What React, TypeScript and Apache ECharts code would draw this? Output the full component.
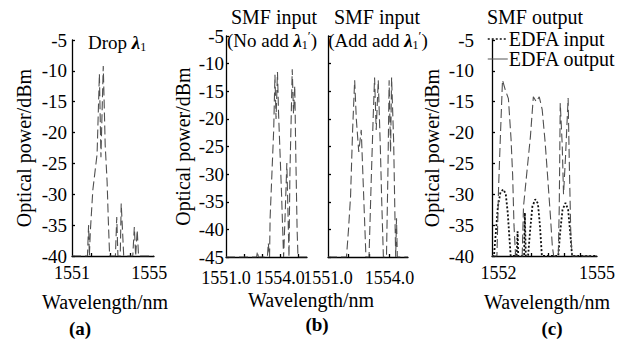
import React, { useEffect, useRef } from "react";
import * as echarts from "echarts";

const FONT = "Liberation Serif, Times New Roman, serif";

// (a) Drop λ1 spectrum  [wavelength nm, power dBm]
const dropSpectrum: number[][] = [
  [1551.0, -40], [1551.8, -40], [1551.86, -35], [1551.9, -40], [1551.95, -36], [1552.08, -29.3],
  [1552.3, -23.5], [1552.42, -10.5], [1552.5, -24], [1552.62, -9.2], [1552.72, -22],
  [1552.82, -28], [1552.88, -34], [1552.95, -40], [1553.25, -40], [1553.32, -33.7],
  [1553.38, -40], [1553.5, -40], [1553.55, -31.5], [1553.62, -36], [1553.68, -40],
  [1554.15, -40], [1554.23, -35.3], [1554.3, -40], [1554.38, -35.8], [1554.45, -40], [1555.25, -40],
];

// (b) SMF input, no add λ'1
const smfNoAdd: number[][] = [
  [1551.0, -45], [1552.7, -45], [1552.75, -44], [1552.8, -45], [1553.3, -45], [1553.35, -42.5],
  [1553.42, -45], [1553.45, -38], [1553.55, -30], [1553.65, -22], [1553.72, -12],
  [1553.78, -20], [1553.86, -11.5], [1553.92, -19], [1554.0, -26], [1554.08, -33],
  [1554.15, -40], [1554.2, -45], [1554.3, -36], [1554.38, -28], [1554.45, -38],
  [1554.5, -45], [1554.55, -30], [1554.62, -20], [1554.68, -11], [1554.75, -19],
  [1554.82, -14], [1554.88, -27], [1554.95, -40], [1555.0, -45], [1555.5, -45],
];

// (b) SMF input, add λ'1
const smfAdd: number[][] = [
  [1551.0, -45], [1551.9, -45], [1552.0, -40], [1552.1, -34], [1552.2, -22], [1552.3, -13],
  [1552.38, -20], [1552.5, -26], [1552.62, -22], [1552.7, -30], [1552.78, -38],
  [1552.85, -45], [1553.0, -45], [1553.1, -32], [1553.2, -20], [1553.27, -12.5],
  [1553.35, -22], [1553.45, -13], [1553.55, -25], [1553.62, -35], [1553.7, -45],
  [1553.85, -45], [1553.92, -30], [1553.98, -13], [1554.05, -26], [1554.1, -12.5],
  [1554.2, -24], [1554.26, -37], [1554.3, -45], [1554.34, -38], [1554.38, -45], [1554.9, -45],
];

// (c) SMF output
const edfaInput: number[][] = [
  [1551.8, -40], [1551.86, -40], [1551.92, -36], [1551.98, -32], [1552.06, -29.6],
  [1552.15, -29.2], [1552.22, -30], [1552.28, -33], [1552.33, -37], [1552.37, -40],
  [1552.55, -40], [1552.58, -36], [1552.6, -40], [1552.78, -40], [1552.8, -33],
  [1552.83, -40], [1552.9, -40], [1552.96, -36], [1553.03, -32], [1553.12, -30.8],
  [1553.2, -31.5], [1553.26, -35], [1553.32, -40], [1553.82, -40], [1553.88, -36],
  [1553.95, -32.5], [1554.04, -31.4], [1554.12, -32.5], [1554.18, -36], [1554.24, -40], [1555.0, -40],
];
const edfaOutput: number[][] = [
  [1551.8, -40], [1551.95, -40], [1552.0, -29], [1552.06, -20], [1552.12, -11.5],
  [1552.2, -13], [1552.3, -14.5], [1552.38, -21], [1552.43, -27], [1552.47, -35],
  [1552.52, -40], [1552.72, -40], [1552.76, -32], [1552.88, -25.5], [1552.97, -20.7],
  [1553.06, -14.2], [1553.15, -15], [1553.24, -14.2], [1553.33, -16.3], [1553.42, -21.6],
  [1553.48, -26], [1553.58, -33.5], [1553.64, -38.5], [1553.68, -40], [1553.82, -40],
  [1553.85, -32], [1553.88, -15.2], [1553.94, -22], [1553.98, -30], [1554.04, -24],
  [1554.12, -14.4], [1554.16, -26], [1554.2, -36], [1554.24, -40], [1555.0, -40],
];

const xLabelsA = [1551, 1555];
const xLabelsB = [1551, 1554];
const xLabelsC = [1552, 1555];
const xTicksA = [1552, 1553, 1554];
const xTicksB = [1552, 1553, 1554, 1555];
const xTicksC = [1552.5, 1553, 1553.5, 1554, 1554.5];
const legendNames = ["EDFA input", "EDFA output"];

const axisLineStyle = { color: "#000", width: 1.3 };

function xAxisOf(gridIndex: number, min: number, max: number, labels: number[], ticks: number[], decimals: number, margin: number) {
  return {
    type: "value",
    gridIndex,
    min,
    max,
    axisLine: { show: true, onZero: false, lineStyle: axisLineStyle },
    axisTick: { show: true, inside: true, length: 3, customValues: ticks, lineStyle: axisLineStyle },
    axisLabel: {
      customValues: labels,
      showMinLabel: true,
      showMaxLabel: true,
      hideOverlap: false,
      formatter: (v: number) => v.toFixed(decimals),
      fontFamily: FONT,
      fontSize: 18,
      color: "#000",
      margin,
    },
    splitLine: { show: false },
  };
}

function yAxisOf(gridIndex: number, min: number, showLabels: boolean, margin: number, nameGap: number) {
  return {
    type: "value",
    gridIndex,
    min,
    max: -5,
    interval: 5,
    name: showLabels ? "Optical power/dBm" : "",
    nameLocation: "middle",
    nameRotate: 90,
    nameGap,
    nameTextStyle: { fontFamily: FONT, fontSize: 20, color: "#000" },
    axisLine: { show: true, lineStyle: axisLineStyle },
    axisTick: { show: true, inside: true, length: 3, lineStyle: axisLineStyle },
    axisLabel: { show: showLabels, showMinLabel: true, showMaxLabel: true, fontFamily: FONT, fontSize: 19, color: "#000", margin },
    splitLine: { show: false },
  };
}

const specLine = { color: "#505050", width: 1.1, type: [9, 4] as number[] };

const txt = (x: number, y: number, text: string, size = 20, extra: any = {}) => ({
  type: "text",
  x,
  y,
  style: {
    text,
    fontFamily: FONT,
    fontSize: size,
    fill: "#000",
    align: "center",
    verticalAlign: "middle",
    ...extra,
  },
});

const lamRich = {
  l: { fontFamily: FONT, fontSize: 19, fontStyle: "italic", fontWeight: "bold", fill: "#000", verticalAlign: "middle" },
  s: { fontFamily: FONT, fontSize: 12, fill: "#000", verticalAlign: "bottom", lineHeight: 22 },
  p: { fontFamily: FONT, fontSize: 13, fill: "#000", verticalAlign: "top", lineHeight: 22 },
  n: { fontFamily: FONT, fontSize: 19, fill: "#000", verticalAlign: "middle", lineHeight: 22 },
};

export default function App() {
  const ref = useRef<HTMLDivElement>(null);
  useEffect(() => {
    if (!ref.current) return;
    const chart = echarts.init(ref.current, null, { renderer: "svg" });
    chart.setOption({
      animation: false,
      backgroundColor: "#fff",
      textStyle: { fontFamily: FONT },
      grid: [
        { left: 72, top: 40, width: 82, height: 216 },
        { left: 226, top: 36, width: 81, height: 221 },
        { left: 328, top: 36, width: 80, height: 221 },
        { left: 492, top: 40, width: 105, height: 216 },
      ],
      xAxis: [
        xAxisOf(0, 1551, 1555.25, xLabelsA, xTicksA, 0, 8),
        xAxisOf(1, 1551, 1555.5, xLabelsB, xTicksB, 1, 12),
        xAxisOf(2, 1551, 1554.9, xLabelsB, xTicksB, 1, 12),
        xAxisOf(3, 1551.8, 1555, xLabelsC, xTicksC, 0, 8),
      ],
      yAxis: [
        yAxisOf(0, -40, true, 5, 38),
        yAxisOf(1, -45, true, 2, 33),
        yAxisOf(2, -45, false, 2, 30),
        yAxisOf(3, -40, true, 18, 50),
      ],
      legend: {
        left: 487,
        top: 29,
        orient: "vertical",
        itemWidth: 20,
        itemHeight: 10,
        itemGap: 0,
        padding: 0,
        itemStyle: { opacity: 0 },
        textStyle: { fontFamily: FONT, fontSize: 20, lineHeight: 16, color: "#000", padding: [0, 0, 0, -4] },
        data: [
          { name: legendNames[0], lineStyle: { type: [2, 2], color: "#111", width: 1.5 } },
          { name: legendNames[1], lineStyle: { type: "solid", color: "#555", width: 1 } },
        ],
      },
      series: [
        { type: "line", xAxisIndex: 0, yAxisIndex: 0, data: dropSpectrum, symbol: "none", lineStyle: specLine },
        { type: "line", xAxisIndex: 1, yAxisIndex: 1, data: smfNoAdd, symbol: "none", lineStyle: specLine },
        { type: "line", xAxisIndex: 2, yAxisIndex: 2, data: smfAdd, symbol: "none", lineStyle: specLine },
        {
          type: "line", name: legendNames[0], xAxisIndex: 3, yAxisIndex: 3, data: edfaInput, symbol: "none",
          color: "#111", lineStyle: { color: "#111", width: 1.8, type: [2, 2] },
        },
        {
          type: "line", name: legendNames[1], xAxisIndex: 3, yAxisIndex: 3, data: edfaOutput, symbol: "none",
          color: "#555", lineStyle: specLine,
        },
      ],
      graphic: [
        {
          type: "text", x: 88, y: 42,
          style: { text: "{n|Drop }{l|λ}{s|1}", rich: lamRich, verticalAlign: "middle", align: "left" },
        },
        txt(274, 17, "SMF input"),
        {
          type: "text", x: 272, y: 40,
          style: { text: "{n|(No add }{l|λ}{s|1}{p|′}{n|)}", rich: lamRich, verticalAlign: "middle", align: "center" },
        },
        txt(377, 17, "SMF input"),
        {
          type: "text", x: 378, y: 40,
          style: { text: "{n|(Add add }{l|λ}{s|1}{p|′}{n|)}", rich: lamRich, verticalAlign: "middle", align: "center" },
        },
        txt(535, 17, "SMF output"),
        txt(105, 302, "Wavelength/nm"),
        txt(311, 300, "Wavelength/nm"),
        txt(547, 302, "Wavelength/nm"),
        txt(80, 328, "(a)", 19, { fontWeight: "bold" }),
        txt(317, 324, "(b)", 19, { fontWeight: "bold" }),
        txt(552, 328, "(c)", 19, { fontWeight: "bold" }),
      ],
    });
    return () => chart.dispose();
  }, []);
  return <div ref={ref} style={{ position: "fixed", left: 0, top: 0, width: 627, height: 340 }} />;
}
